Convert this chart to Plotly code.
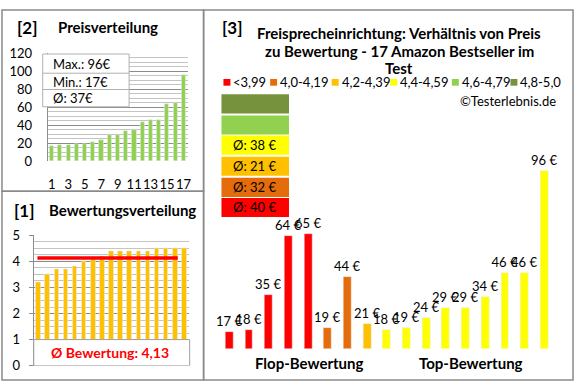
import plotly.graph_objects as go

# ---------------- data ----------------
prices = [17, 18, 35, 64, 65, 19, 44, 21, 18, 19, 24, 29, 29, 34, 46, 46, 96]
groups = ['<3,99'] * 5 + ['4,0-4,19'] * 2 + ['4,2-4,39'] + ['4,4-4,59'] * 9
ratings = [3.2, 3.5, 3.7, 3.7, 3.8, 4.0, 4.1, 4.2, 4.4, 4.4, 4.4, 4.4, 4.4, 4.5, 4.5, 4.5, 4.5]
legend_labels = ['<3,99', '4,0-4,19', '4,2-4,39', '4,4-4,59', '4,6-4,79', '4,8-5,0']
legend_colors = ['#FF0000', '#E46C0A', '#FFC000', '#FFFF00', '#92D050', '#76923C']
price_ticks = [1, 3, 5, 7, 9, 11, 13, 15, 17]
title_lines = ['Freisprecheinrichtung: Verhältnis von Preis',
               'zu Bewertung - 17 Amazon Bestseller im', 'Test']

W, H = 580, 390
FONT = 'Lato'


def px(x):
    return x / W


def py(y):
    return 1 - y / H


sorted_prices = sorted(prices)
avg_price = sum(prices) / len(prices)
avg_rating = sum(ratings) / len(ratings)
color_of = dict(zip(legend_labels, legend_colors))
bar_colors = [color_of[g] for g in groups]

fig = go.Figure()

# [2] price distribution
fig.add_trace(go.Bar(x=list(range(1, len(sorted_prices) + 1)), y=sorted_prices,
                     marker_color='#92D050', width=0.5, xaxis='x', yaxis='y',
                     showlegend=False, hoverinfo='skip'))
# [1] rating distribution
fig.add_trace(go.Bar(x=list(range(1, len(ratings) + 1)), y=ratings,
                     marker_color='#FFC000', width=0.5, xaxis='x2', yaxis='y2',
                     showlegend=False, hoverinfo='skip'))
# [3] price vs rating
fig.add_trace(go.Bar(x=list(range(len(prices))), y=prices, marker_color=bar_colors,
                     width=0.4, xaxis='x3', yaxis='y3', showlegend=False,
                     text=[f'{v} €' for v in prices], textposition='outside',
                     constraintext='none', cliponaxis=False,
                     textfont=dict(family=FONT, size=13, color='#000'),
                     hoverinfo='skip'))

shapes = []
ann = []

# panel borders
for (x0, y0, x1, y1) in [(2, 2, 205, 191), (2, 191, 205, 388), (205, 2, 577, 388)]:
    shapes.append(dict(type='rect', xref='paper', yref='paper', x0=px(x0), x1=px(x1),
                       y0=py(y1), y1=py(y0), line=dict(color='#8a8a8a', width=1.5),
                       fillcolor='rgba(0,0,0,0)', layer='above'))

# stats box in [2]
shapes.append(dict(type='rect', xref='paper', yref='paper', x0=px(43), x1=px(130),
                   y0=py(103), y1=py(48), line=dict(color='#b0b0b0', width=1),
                   fillcolor='white', layer='above'))
for yy in (68, 85):
    shapes.append(dict(type='line', xref='paper', yref='paper', x0=px(43), x1=px(130),
                       y0=py(yy), y1=py(yy), line=dict(color='#b0b0b0', width=1), layer='above'))
stats = [f'Max.: {max(prices)}€', f'Min.: {min(prices)}€', f'Ø: {int(avg_price + 0.5)}€']
for t, yy in zip(stats, (58, 77, 94)):
    ann.append(dict(text=t, x=px(51), y=py(yy), xanchor='left', yanchor='middle',
                    font=dict(family=FONT, size=13, color='#000')))

# rating average box and line in [1]
shapes.append(dict(type='rect', xref='paper', yref='y2', x0=px(34), x1=px(191),
                   y0=0, y1=1, line=dict(color='#a0a0a0', width=1), fillcolor='white',
                   layer='above'))
shapes.append(dict(type='line', xref='x2', yref='y2', x0=0.9, x1=16.3,
                   y0=avg_rating, y1=avg_rating, line=dict(color='#FF0000', width=3.5),
                   layer='above'))
ann.append(dict(text=f'<b>Ø Bewertung: {avg_rating:.2f}</b>'.replace('.', ','),
                x=px(111), y=py(359), xanchor='center', yanchor='middle',
                font=dict(family=FONT, size=14, color='#FF0000')))

# titles
ann += [
    dict(text='<b>[2]</b>', x=px(15), y=py(20), xanchor='left', yanchor='middle',
         font=dict(family=FONT, size=17, color='#000')),
    dict(text='<b>Preisverteilung</b>', x=px(56), y=py(20), xanchor='left', yanchor='middle',
         font=dict(family=FONT, size=15, color='#000')),
    dict(text='<b>[1]</b>', x=px(12), y=py(211), xanchor='left', yanchor='middle',
         font=dict(family=FONT, size=17, color='#000')),
    dict(text='<b>Bewertungsverteilung</b>', x=px(47), y=py(211), xanchor='left', yanchor='middle',
         font=dict(family=FONT, size=15, color='#000')),
    dict(text='<b>[3]</b>', x=px(222), y=py(20), xanchor='left', yanchor='middle',
         font=dict(family=FONT, size=17, color='#000')),
    dict(text='©Testerlebnis.de', x=px(562), y=py(97), xanchor='right', yanchor='middle',
         font=dict(family=FONT, size=13, color='#000')),
    dict(text='<b>Flop-Bewertung</b>', x=px(312), y=py(370), xanchor='center', yanchor='middle',
         font=dict(family=FONT, size=15, color='#000')),
    dict(text='<b>Top-Bewertung</b>', x=px(474), y=py(370), xanchor='center', yanchor='middle',
         font=dict(family=FONT, size=15, color='#000')),
]
for line, yy in zip(title_lines, (26, 45, 63)):
    ann.append(dict(text=f'<b>{line}</b>', x=px(402), y=py(yy), xanchor='center',
                    yanchor='middle', font=dict(family=FONT, size=15, color='#000')))

# legend row
legend_x = [225, 272, 334, 393, 455, 514]
for lab, col, lx in zip(legend_labels, legend_colors, legend_x):
    shapes.append(dict(type='rect', xref='paper', yref='paper', x0=px(lx), x1=px(lx + 7),
                       y0=py(81), y1=py(74), fillcolor=col, line=dict(width=0)))
    ann.append(dict(text=lab, x=px(lx + 8), y=py(77), xanchor='left', yanchor='middle',
                    font=dict(family=FONT, size=13, color='#000')))

# group boxes with average prices (bottom = lowest rating group)
box_tops = [198, 177, 155, 133, 112, 90]
for lab, col, top in zip(legend_labels, legend_colors, box_tops):
    shapes.append(dict(type='rect', xref='paper', yref='paper', x0=px(223), x1=px(291),
                       y0=py(top + 20), y1=py(top), fillcolor=col, line=dict(width=0)))
    vals = [p for p, g in zip(prices, groups) if g == lab]
    if vals:
        a = int(sum(vals) / len(vals) + 0.5)
        ann.append(dict(text=f'Ø: {a} €', x=px(233), y=py(top + 10), xanchor='left',
                        yanchor='middle', font=dict(family=FONT, size=13, color='#000')))

for a in ann:
    a.setdefault('xref', 'paper')
    a.setdefault('yref', 'paper')
    a['showarrow'] = False

tickfont = dict(family=FONT, size=13, color='#000')
fig.update_layout(
    width=W, height=H, margin=dict(l=0, r=0, t=0, b=0),
    paper_bgcolor='white', plot_bgcolor='white', showlegend=False,
    bargap=0,
    xaxis=dict(domain=[px(48), px(189)], range=[0.5, 17.5], tickvals=price_ticks,
               tickangle=0, showgrid=False, zeroline=False, showline=False, ticks='',
               ticklabelstandoff=14, tickfont=tickfont, anchor='y', fixedrange=True),
    yaxis=dict(domain=[py(160), py(47)], range=[0, 120], dtick=20, showgrid=True,
               gridcolor='#8c8c8c', gridwidth=1, zeroline=False,
               minor=dict(dtick=5, showgrid=True, gridcolor='#c4c4c4', gridwidth=1),
               showline=True, linecolor='#8c8c8c', ticks='', ticklabelstandoff=12,
               tickfont=tickfont, anchor='x'),
    xaxis2=dict(domain=[px(34), px(190)], range=[0.5, 17.5], showticklabels=False,
                showgrid=False, zeroline=False, showline=False, ticks='', anchor='y2'),
    yaxis2=dict(domain=[py(373), py(237)], range=[0, 5], dtick=1, showgrid=True,
                gridcolor='#8c8c8c', gridwidth=1, zeroline=False,
                minor=dict(dtick=0.25, showgrid=True, gridcolor='#c4c4c4', gridwidth=1),
                showline=True, linecolor='#8c8c8c', ticks='outside', ticklen=4,
                tickcolor='#8c8c8c', ticklabelstandoff=6, tickfont=tickfont, anchor='x2'),
    xaxis3=dict(domain=[px(221), px(558)], range=[-0.5, 16.5], visible=False, anchor='y3'),
    yaxis3=dict(domain=[py(355), py(100)], range=[8.85, 8.85 + 255 / 2.123], visible=False,
                anchor='x3'),
    shapes=shapes, annotations=ann,
)

fig.write_html('out.html', config={'displayModeBar': False},
               post_script="document.body.style.margin='0';document.body.style.overflow='hidden';")
